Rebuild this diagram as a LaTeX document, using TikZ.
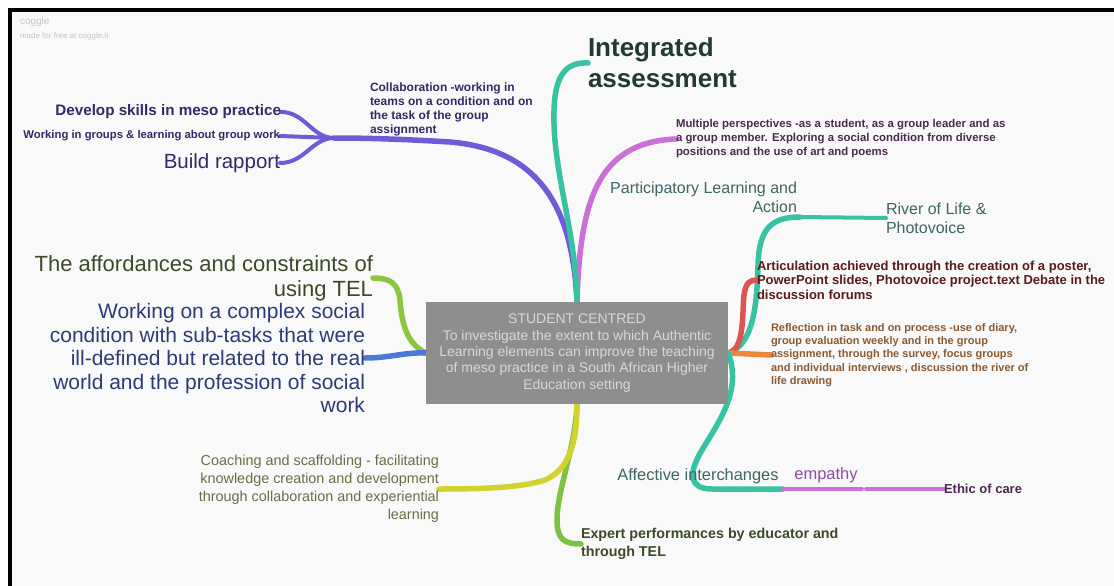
\documentclass[tikz,border=0pt]{standalone}
\usepackage{fontspec}
\setmainfont{Liberation Sans}
\definecolor{bgc}{HTML}{F9F9F9}
\definecolor{tealc}{HTML}{36C2A3}
\definecolor{purc}{HTML}{6F5AD8}
\definecolor{pinkc}{HTML}{CC6FD9}
\definecolor{redc}{HTML}{DD5550}
\definecolor{orangec}{HTML}{E8883A}
\definecolor{limec}{HTML}{8CC63F}
\definecolor{bluec}{HTML}{4B79D6}
\definecolor{yellowc}{HTML}{D3D12E}
\definecolor{greenc}{HTML}{7DC243}
\definecolor{boxgrey}{HTML}{8E8E8E}
\definecolor{boxtext}{HTML}{D8D8D8}
\definecolor{iatext}{HTML}{1F3B33}
\definecolor{navytext}{HTML}{2E2C66}
\definecolor{purtext}{HTML}{4A2A4E}
\definecolor{tealtext}{HTML}{3E6664}
\definecolor{maroontext}{HTML}{5B1A1A}
\definecolor{browntext}{HTML}{8A5A32}
\definecolor{olivetext}{HTML}{3C4A28}
\definecolor{bluetext}{HTML}{2D3B78}
\definecolor{coachtext}{HTML}{6E6B45}
\definecolor{emptext}{HTML}{8B4BAA}
\definecolor{logotext}{HTML}{C4C4C4}
\pgfdeclarelayer{bglayer}
\pgfsetlayers{bglayer,main}
\newcommand\myfs[2]{\fontsize{#1}{#2}\selectfont}
\tikzset{
  branch/.style={line width=5.5pt, line cap=round},
  subbranch/.style={line width=4pt, line cap=round},
  lbl/.style={inner sep=0pt, outer sep=0pt},
  centerbox/.style={fill=boxgrey, text=boxtext, minimum width=302pt, minimum height=102pt, inner sep=0pt, align=center, font=\myfs{14}{16.3}},
}
\begin{document}
\begin{tikzpicture}[x=1pt,y=-1pt]
\useasboundingbox (0,0) rectangle (1114,586);

% nodes
\node[centerbox] (c) at (577,353) {STUDENT CENTRED\\To investigate the extent to which Authentic\\Learning elements can improve the teaching\\of meso practice in a South African Higher\\Education setting};

\node[lbl, anchor=west, text=logotext, font=\myfs{10}{12}] (logo) at (20,22) {coggle};
\node[lbl, anchor=west, text=logotext, font=\myfs{8}{10}] (made) at (20,36) {made for free at coggle.it};

\node[lbl, anchor=west, align=left, text=iatext, font=\myfs{26}{31}\bfseries] (ia) at (588,63) {Integrated\\assessment};
\node[lbl, anchor=west, align=left, text=navytext, font=\myfs{12}{14}\bfseries] (col) at (370,109) {Collaboration -working in\\teams on a condition and on\\the task of the group\\assignment};
\node[lbl, anchor=east, text=navytext, font=\myfs{15.2}{18}\bfseries] (dev) at (281,112) {Develop skills in meso practice};
\node[lbl, anchor=east, text=navytext, font=\myfs{11.3}{13}\bfseries] (wg) at (280,136) {Working in groups \& learning about group work};
\node[lbl, anchor=east, text=navytext, font=\myfs{20.5}{24}] (brp) at (280,163) {Build rapport};
\coordinate (fk) at (334,138);

\node[lbl, anchor=west, align=left, text=purtext, font=\myfs{11.4}{14}\bfseries] (mp) at (676,139) {Multiple perspectives -as a student, as a group leader and as\\a group member. Exploring a social condition from diverse\\positions and the use of art and poems};

\node[lbl, anchor=east, align=right, text=tealtext, font=\myfs{16}{19}] (pla) at (797,197) {Participatory Learning and\\Action};
\coordinate (plaend) at (800,217);
\node[lbl, anchor=west, align=left, text=tealtext, font=\myfs{16}{19}] (rl) at (886,218) {River of Life \&\\Photovoice};

\node[lbl, anchor=west, align=left, text=maroontext, font=\myfs{13}{14.5}\bfseries] (art) at (757,280) {Articulation achieved through the creation of a poster,\\PowerPoint slides, Photovoice project.text Debate in the\\discussion forums};
\node[lbl, anchor=west, align=left, text=browntext, font=\myfs{11}{13.3}\bfseries] (ref) at (771,355) {Reflection in task and on process -use of diary,\\group evaluation weekly and in the group\\assignment, through the survey, focus groups\\and individual interviews , discussion the river of\\life drawing};

\node[lbl, text=tealtext, font=\myfs{16.4}{19}] (af) at (698,476) {Affective interchanges};
\coordinate (afend) at (783,489);
\node[lbl, text=emptext, font=\myfs{16.5}{19}] (emp) at (826,475) {empathy};
\coordinate (empend) at (862,489);
\coordinate (eocstart) at (866,489);
\node[lbl, anchor=west, text=purtext, font=\myfs{13}{15}\bfseries] (eoc) at (944,489) {Ethic of care};

\node[lbl, anchor=east, align=right, text=olivetext, font=\myfs{22}{25}] (aff) at (373,278) {The affordances and constraints of\\using TEL};
\node[lbl, anchor=east, align=right, text=bluetext, font=\myfs{21}{23.5}] (wk) at (365,358) {Working on a complex social\\condition with sub-tasks that were\\ill-defined but related to the real\\world and the profession of social\\work};
\node[lbl, anchor=east, align=right, text=coachtext, font=\myfs{14.4}{18}] (co) at (439,489) {Coaching and scaffolding - facilitating\\knowledge creation and development\\through collaboration and experiential\\learning};
\node[lbl, anchor=west, align=left, text=olivetext, font=\myfs{14.3}{18}\bfseries] (ex) at (581,544) {Expert performances by educator and\\through TEL};

\begin{pgfonlayer}{bglayer}
\fill[white] (0,0) rectangle (1114,586);
\fill[bgc] (12,12) rectangle (1114,586);
\fill[black] (8,8) rectangle (1114,12);
\fill[black] (8,8) rectangle (12,586);

% top branches
\draw[branch, purc] (c.north) .. controls (573,215) and (545,150) .. (450,142) .. controls (400,139) and (365,138) .. (fk);
\draw[subbranch, purc] (fk) .. controls (312,138) and (305,112) .. (dev.east);
\draw[subbranch, purc] (fk) -- (wg.east);
\draw[subbranch, purc] (fk) .. controls (312,138) and (305,163) .. (brp.east);
\draw[branch, pinkc] (c.north) .. controls (580,200) and (598,142) .. (mp.west);
\draw[branch, tealc] (c.north) .. controls (576,230) and (552,170) .. (554,110) .. controls (555,75) and (566,62) .. (ia.west);

% right branches
\draw[branch, tealc] (c.east) .. controls (752,345) and (757,310) .. (758,265) .. controls (759,228) and (772,217) .. (plaend);
\draw[subbranch, tealc] (plaend) -- (rl.west);
\draw[branch, redc] (c.east) .. controls (745,350) and (742,312) .. (744,295) .. controls (746,282) and (750,280) .. (art.west);
\draw[branch, orangec] (c.east) -- (ref.west);
\draw[branch, tealc] (c.east) .. controls (742,390) and (720,420) .. (702,450) .. controls (687,475) and (690,489) .. (712,489) -- (afend);
\draw[subbranch, pinkc] (afend) -- (empend);
\draw[subbranch, pinkc] (eocstart) -- (eoc.west);

% left branches
\draw[branch, limec] (c.west) .. controls (410,345) and (402,330) .. (400,300) .. controls (398,283) and (390,278) .. (aff.east);
\draw[branch, bluec] (c.west) .. controls (405,352) and (390,358) .. (wk.east);

% bottom branches
\draw[branch, greenc] (c.south) .. controls (575,450) and (557,490) .. (557,520) .. controls (557,540) and (565,544) .. (ex.west);
\draw[branch, yellowc] (c.south) .. controls (577,445) and (568,470) .. (545,480) .. controls (520,488) and (480,489) .. (co.east);
\end{pgfonlayer}
\end{tikzpicture}
\end{document}
